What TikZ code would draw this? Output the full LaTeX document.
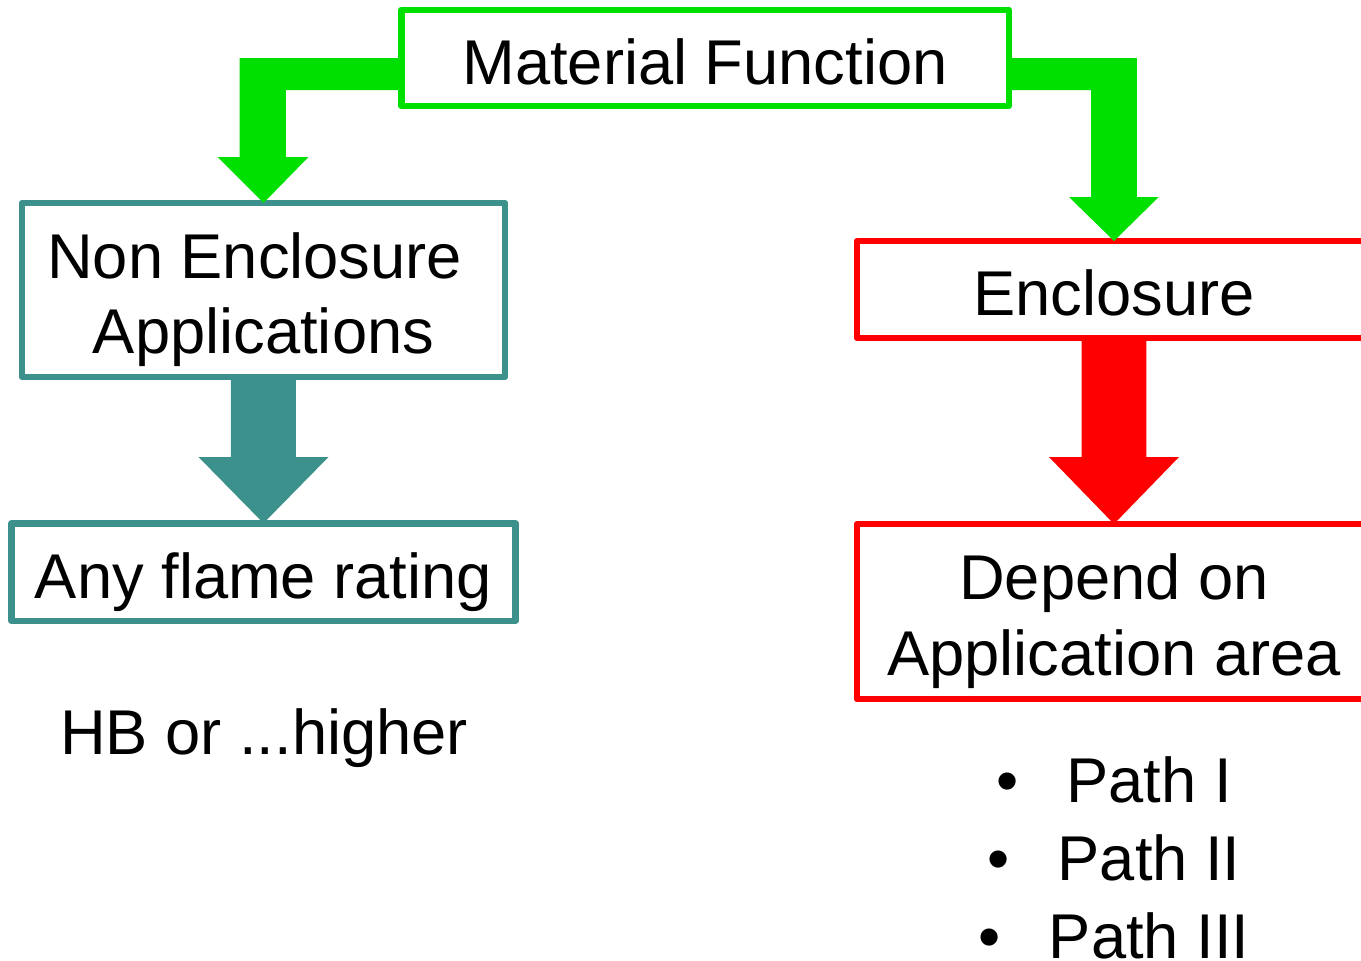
\documentclass[tikz,border=0pt]{standalone}
\usepackage{fontspec}
\setmainfont{Liberation Sans}
\usetikzlibrary{positioning}
\definecolor{matgreen}{RGB}{0,224,0}
\definecolor{matteal}{RGB}{61,145,141}
\definecolor{matred}{RGB}{255,0,0}
\newcommand{\tstrut}{\rule{0pt}{19.3pt}}
\newcommand{\bstrut}{\rule[-4.5pt]{0pt}{0pt}}
\tikzset{box/.style={draw, line width=0.065cm, line join=round, inner sep=0pt, outer sep=0pt, align=center}}

\begin{document}
\begin{tikzpicture}[font=\fontsize{18pt}{21.6pt}\selectfont]
		\useasboundingbox (0, 0) rectangle (13.61, 9.60);
		\node[box, draw=matgreen, minimum width=6.075cm, minimum height=0.96cm] (material-function) at (7.05, 9.02) {\tstrut Material Function\bstrut};
		\node[box, draw=matteal, minimum width=4.83cm, minimum height=1.74cm] (non-enclosure) at (2.635, 6.70) {\tstrut Non Enclosure\hspace*{0.28em}\\Applications\bstrut};
		\node[box, draw=matteal, minimum width=5.04cm, minimum height=0.975cm] (any-flame) at (2.635, 3.88) {\tstrut Any flame rating\bstrut};
		\node[box, draw=matred, minimum width=5.14cm, minimum height=0.97cm] (enclosure) at (11.14, 6.705) {\tstrut Enclosure\bstrut};
		\node[box, draw=matred, minimum width=5.14cm, minimum height=1.75cm] (depend-on) at (11.14, 3.485) {\tstrut Depend on\\Application area\bstrut};
		\node[anchor=base] (hb-higher) at (2.64, 2.06) {HB or ...higher};
		\node[anchor=north, align=center, font=\fontsize{18pt}{22.2pt}\selectfont] (paths) at (11.14, 2.16) {\makebox[20pt][l]{\textbullet}Path I\\\makebox[20pt][l]{\textbullet}Path II\\\makebox[20pt][l]{\textbullet}Path III};
		% block arrows
		\path [fill=matgreen] (material-function.west) -- ++(-1.615, 0) -- ++(0, -0.99) -- ++(-0.22, 0) -- (non-enclosure.north) -- ++(0.45, 0.46) -- ++(-0.225, 0) -- ++(0, 0.67) -- ++(1.1525, 0) -- cycle;
		\path [fill=matgreen] (material-function.east) -- ++(1.28, 0) -- ++(0, -1.39) -- ++(0.22, 0) -- (enclosure.north) -- ++(-0.45, 0.44) -- ++(0.22, 0) -- ++(0, 1.07) -- ++(-0.82, 0) -- cycle;
		\path [fill=matteal] (non-enclosure.south) ++(0.325, 0) -- ++(0, -0.80) -- ++(0.325, 0) -- (any-flame.north) -- ++(-0.65, 0.6625) -- ++(0.325, 0) -- ++(0, 0.80) -- cycle;
		\path [fill=matred] (enclosure.south) ++(0.325, 0) -- ++(0, -1.19) -- ++(0.325, 0) -- (depend-on.north) -- ++(-0.65, 0.67) -- ++(0.325, 0) -- ++(0, 1.19) -- cycle;
	\end{tikzpicture}
\end{document}
